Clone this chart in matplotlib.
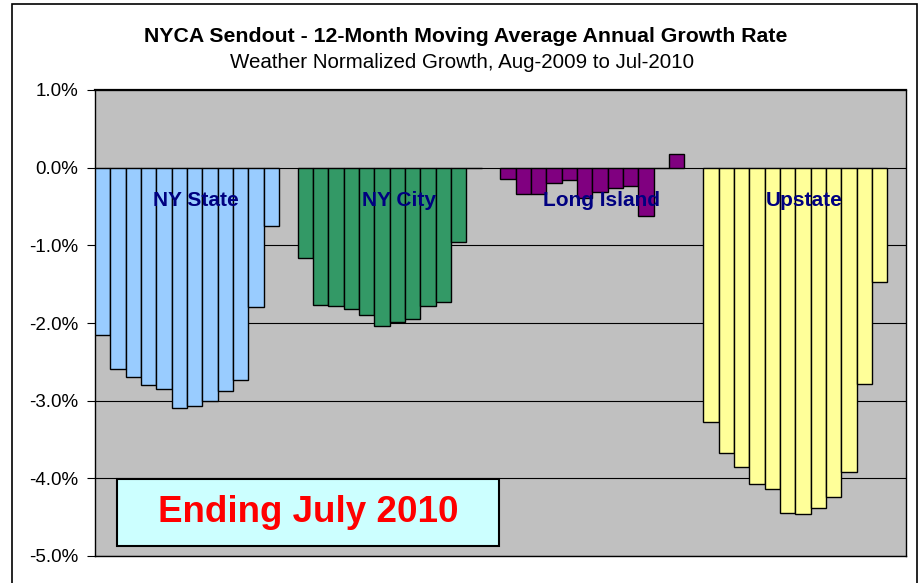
import matplotlib.pyplot as plt
from matplotlib.patches import Rectangle

plt.rcParams['font.family'] = ['Liberation Sans', 'DejaVu Sans']

# 12-month moving average growth, Aug-2009 .. Jul-2010 (percent)
regions = ["NY State", "NY City", "Long Island", "Upstate"]
ny_state = [-2.16, -2.59, -2.70, -2.80, -2.85, -3.09, -3.07, -3.00, -2.88, -2.73, -1.79, -0.75]
ny_city = [-1.16, -1.77, -1.78, -1.82, -1.90, -2.04, -1.99, -1.95, -1.78, -1.73, -0.96, -0.01]
long_island = [-0.15, -0.34, -0.34, -0.20, -0.16, -0.39, -0.31, -0.26, -0.24, -0.62, -0.01, 0.17]
upstate = [-3.28, -3.67, -3.86, -4.07, -4.14, -4.44, -4.46, -4.38, -4.24, -3.92, -2.79, -1.47]
series = [ny_state, ny_city, long_island, upstate]
colors = ["#99CCFF", "#339966", "#800080", "#FFFF99"]

yticks = [1, 0, -1, -2, -3, -4, -5]
group_step = 13.225  # bar widths between group starts

fig = plt.figure(figsize=(9.2, 5.83), dpi=100)
fig.patches.append(Rectangle((12 / 920, -0.01), 905 / 920, 1 - 4 / 583 + 0.01,
                             transform=fig.transFigure, fill=False,
                             edgecolor="black", linewidth=1.2))

ax = fig.add_axes([95 / 920, 27 / 583, 811 / 920, 466 / 583])
ax.set_facecolor("#C0C0C0")

for g, (vals, col, name) in enumerate(zip(series, colors, regions)):
    start = g * group_step
    xs = [start + i + 0.5 for i in range(len(vals))]
    ax.bar(xs, vals, width=1.0, color=col, edgecolor="black", linewidth=1.0, zorder=3)
    ax.text(start + 6.6, -0.42, name, ha="center", va="center", color="#000080",
            fontsize=15, fontweight="bold", zorder=5)

ax.set_xlim(0, 52.9)
ax.set_ylim(-5, 1)
ax.set_yticks(yticks)
ax.set_yticklabels([f"{v:.1f}%" for v in yticks], fontsize=13.5)
ax.set_xticks([])
ax.grid(axis="y", color="black", linewidth=0.8, zorder=1)
ax.tick_params(axis="y", length=6, width=0.8, pad=6)
for s in ax.spines.values():
    s.set_color("black")
    s.set_linewidth(1.0)
ax.spines["top"].set_linewidth(1.6)

fig.text(466 / 920, 1 - 36 / 583, "NYCA Sendout - 12-Month Moving Average Annual Growth Rate",
         ha="center", va="center", fontsize=15.3, fontweight="bold")
fig.text(462 / 920, 1 - 62 / 583, "Weather Normalized Growth, Aug-2009 to Jul-2010",
         ha="center", va="center", fontsize=14.8)

# note box
box = Rectangle((117 / 920, 1 - 545.7 / 583), 382 / 920, 66.4 / 583,
                transform=fig.transFigure, facecolor="#CCFFFF", edgecolor="black",
                linewidth=1.5, zorder=10)
fig.patches.append(box)
fig.text(308 / 920, 1 - 513 / 583, "Ending July 2010", ha="center", va="center",
         color="#FF0000", fontsize=26.5, fontweight="bold", zorder=11)

fig.savefig("out.png", dpi=100)
